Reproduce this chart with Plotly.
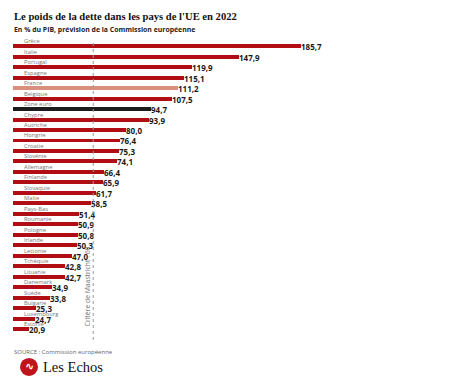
import plotly.graph_objects as go

countries = ["Grèce", "Italie", "Portugal", "Espagne", "France", "Belgique", "Zone euro",
             "Chypre", "Autriche", "Hongrie", "Croatie", "Slovénie", "Allemagne", "Finlande",
             "Slovaquie", "Malte", "Pays-Bas", "Roumanie", "Pologne", "Irlande", "Lettonie",
             "Tchéquie", "Lituanie", "Danemark", "Suède", "Bulgarie", "Luxembourg", "Estonie"]
values = [185.7, 147.9, 119.9, 115.1, 111.2, 107.5, 94.7,
          93.9, 80.0, 76.4, 75.3, 74.1, 66.4, 65.9,
          61.7, 58.5, 51.4, 50.9, 50.8, 50.3, 47.0,
          42.8, 42.7, 34.9, 33.8, 25.3, 24.7, 20.9]
maastricht = 60

RED = "#b00d14"
colors = []
for c in countries:
    if c == "France":
        colors.append("#d9907a")
    elif c == "Zone euro":
        colors.append("#1c1c1c")
    else:
        colors.append(RED)

labels = [f"{v:.1f}".replace(".", ",") for v in values]

fig = go.Figure()
fig.add_trace(go.Bar(
    x=values, y=countries, orientation="h",
    marker=dict(color=colors, line=dict(width=0)),
    width=0.38,
    text=labels, textposition="outside", constraintext="none",
    textfont=dict(family="Open Sans", size=8, color="#1a1a1a", weight="bold"),
    cliponaxis=False, hoverinfo="skip",
))

annotations = []
for c in countries:
    annotations.append(dict(
        x=0, xref="paper", xanchor="left", xshift=9,
        y=c, yref="y", yanchor="middle", yshift=5,
        text=c, showarrow=False,
        font=dict(family="Open Sans", size=5.8, color="#777777"),
    ))

annotations += [
    dict(x=0, xref="paper", xanchor="left", xshift=-1, y=1.0836, yref="paper", yanchor="middle",
         text="<b>Le poids de la dette dans les pays de l'UE en 2022</b>", showarrow=False,
         font=dict(family="Liberation Serif", size=10.6, color="#111111")),
    dict(x=0, xref="paper", xanchor="left", xshift=-1, y=1.037, yref="paper", yanchor="middle",
         text="<b>En % du PIB, prévision de la Commission européenne</b>", showarrow=False,
         font=dict(family="Open Sans", size=6.9, color="#222222")),
    dict(x=maastricht, xref="x", xanchor="center", xshift=-6, y=0.18, yref="paper", yanchor="middle",
         text=f"Critère de Maastricht : {maastricht}", textangle=-90, showarrow=False,
         font=dict(family="Open Sans", size=6.8, color="#777777")),
    dict(x=0, xref="paper", xanchor="left", xshift=-1, y=-0.040, yref="paper", yanchor="middle",
         text="SOURCE : Commission européenne", showarrow=False,
         font=dict(family="Open Sans", size=6, color="#666666")),
    dict(x=0, xref="paper", xanchor="left", xshift=28, y=-0.090, yref="paper", yanchor="middle",
         text="Les Echos", showarrow=False,
         font=dict(family="Liberation Serif", size=14.5, color="#111111")),
    dict(x=0, xref="paper", xanchor="center", xshift=16, y=-0.090, yref="paper", yanchor="middle",
         text="<b>∿</b>", showarrow=False,
         font=dict(family="DejaVu Sans", size=11, color="white")),
]

shapes = [
    dict(type="line", xref="x", yref="paper", x0=maastricht, x1=maastricht, y0=0, y1=1,
         line=dict(color="#999999", width=1, dash="dot")),
    dict(type="circle", xref="paper", yref="paper",
         xsizemode="pixel", ysizemode="pixel", xanchor=0.0, yanchor=-0.090,
         x0=7, x1=25, y0=-9, y1=9,
         line=dict(width=0), fillcolor="#c0141b"),
]

fig.update_layout(
    width=466, height=372,
    margin=dict(l=5, r=4, t=33, b=40),
    paper_bgcolor="white", plot_bgcolor="white",
    showlegend=False,
    bargap=0,
    xaxis=dict(range=[11.5, 287.8], visible=False, fixedrange=True),
    yaxis=dict(autorange="reversed", visible=False, fixedrange=True, categoryorder="array",
               categoryarray=countries),
    annotations=annotations, shapes=shapes,
)

fig.write_html("out.html")
